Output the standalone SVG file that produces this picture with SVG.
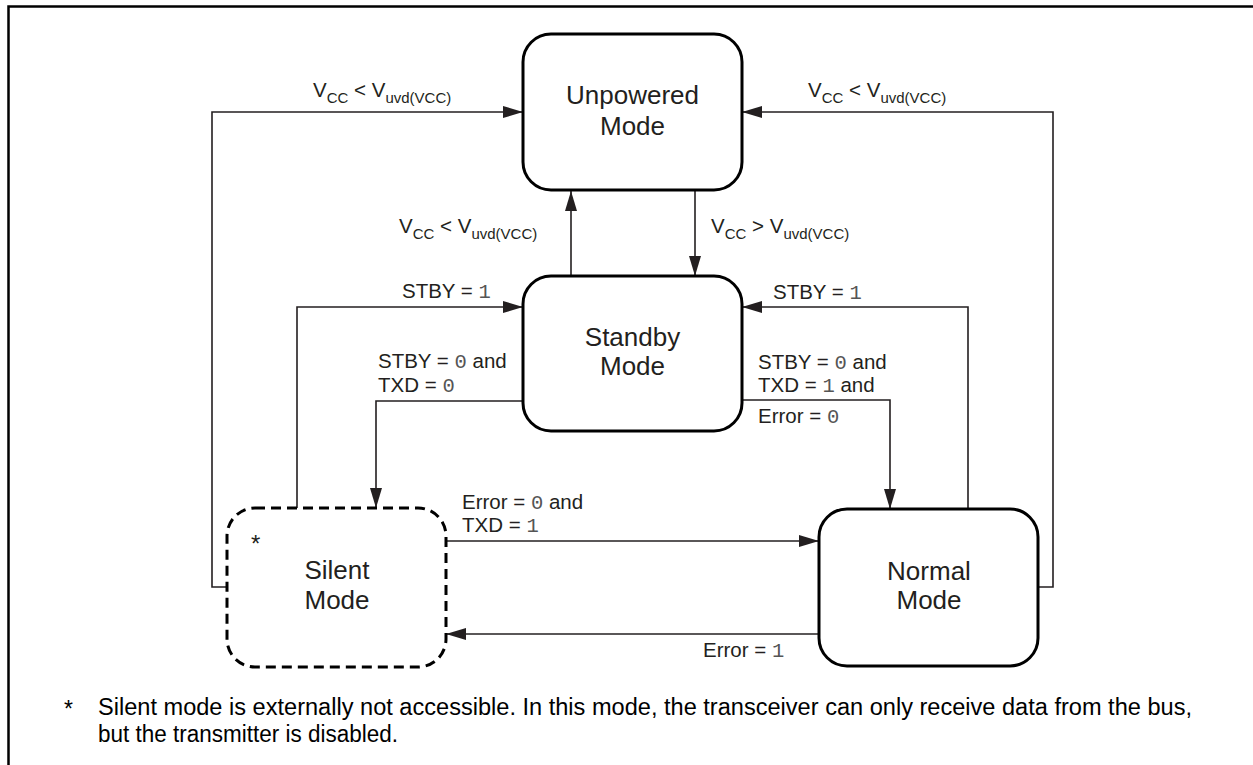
<svg xmlns="http://www.w3.org/2000/svg" width="1253" height="765" viewBox="0 0 1253 765">
<defs>
<marker id="arr" markerUnits="userSpaceOnUse" markerWidth="20" markerHeight="12" refX="20" refY="6" orient="auto">
<path d="M0,0 L20,6 L0,12 z" fill="#231f20"/>
</marker>
<style>
.node{fill:#fff;stroke:#000;stroke-width:3}
.dash{stroke-dasharray:10 6}
.nt{font-family:"Liberation Sans",Arial,sans-serif;font-size:26px;fill:#231f20;text-anchor:middle}
.lb{font-family:"Liberation Sans",Arial,sans-serif;font-size:20.5px;fill:#231f20}
.sub{font-size:15px}
.m{font-family:"Liberation Mono","Courier New",monospace;fill:#555}
.c{fill:none;stroke:#231f20;stroke-width:1.6}
.fn{font-family:"Liberation Sans",Arial,sans-serif;font-size:23px;fill:#000}
</style>
</defs>
<rect width="1253" height="765" fill="#fff"/>
<path d="M8.5,765 V6.5 H1253" fill="none" stroke="#000" stroke-width="2.5"/>

<g id="connectors">
<path class="c" d="M227,587 H212 V112 H523" marker-end="url(#arr)"/>
<path class="c" d="M1038,587 H1053 V112 H742" marker-end="url(#arr)"/>
<path class="c" d="M571,276 V191" marker-end="url(#arr)"/>
<path class="c" d="M695,191 V276" marker-end="url(#arr)"/>
<path class="c" d="M297,508 V307 H523" marker-end="url(#arr)"/>
<path class="c" d="M968,509 V307 H742" marker-end="url(#arr)"/>
<path class="c" d="M523,401 H376 V508" marker-end="url(#arr)"/>
<path class="c" d="M742,400 H890 V509" marker-end="url(#arr)"/>
<path class="c" d="M446,541 H819" marker-end="url(#arr)"/>
<path class="c" d="M819,634 H446" marker-end="url(#arr)"/>
</g>

<g id="labels">
<text class="lb" x="313" y="97">V<tspan class="sub" dy="6">CC</tspan><tspan dy="-6"> &lt; V</tspan><tspan class="sub" dy="6">uvd(VCC)</tspan></text>
<text class="lb" x="808" y="97">V<tspan class="sub" dy="6">CC</tspan><tspan dy="-6"> &lt; V</tspan><tspan class="sub" dy="6">uvd(VCC)</tspan></text>
<text class="lb" x="399" y="233">V<tspan class="sub" dy="6">CC</tspan><tspan dy="-6"> &lt; V</tspan><tspan class="sub" dy="6">uvd(VCC)</tspan></text>
<text class="lb" x="711" y="233">V<tspan class="sub" dy="6">CC</tspan><tspan dy="-6"> &gt; V</tspan><tspan class="sub" dy="6">uvd(VCC)</tspan></text>
<text class="lb" x="402" y="298">STBY = <tspan class="m">1</tspan></text>
<text class="lb" x="773" y="299">STBY = <tspan class="m">1</tspan></text>
<text class="lb" x="378" y="368">STBY = <tspan class="m">0</tspan> and</text>
<text class="lb" x="378" y="392">TXD = <tspan class="m">0</tspan></text>
<text class="lb" x="758" y="369">STBY = <tspan class="m">0</tspan> and</text>
<text class="lb" x="758" y="392">TXD = <tspan class="m">1</tspan> and</text>
<text class="lb" x="758" y="423">Error = <tspan class="m">0</tspan></text>
<text class="lb" x="462" y="509">Error = <tspan class="m">0</tspan> and</text>
<text class="lb" x="462" y="532">TXD = <tspan class="m">1</tspan></text>
<text class="lb" x="703" y="657">Error = <tspan class="m">1</tspan></text>
</g>

<g id="unpowered">
<rect class="node" x="523" y="34" width="219" height="156" rx="28"/>
<text class="nt" x="632.5" y="104">Unpowered</text>
<text class="nt" x="632.5" y="135">Mode</text>
</g>
<g id="standby">
<rect class="node" x="523" y="276" width="219" height="155" rx="28"/>
<text class="nt" x="632.5" y="346">Standby</text>
<text class="nt" x="632.5" y="375">Mode</text>
</g>
<g id="silent">
<rect class="node dash" x="227" y="508" width="219" height="159" rx="28"/>
<text class="lb" x="251" y="552" style="font-size:24px">*</text>
<text class="nt" x="337" y="579">Silent</text>
<text class="nt" x="337" y="609">Mode</text>
</g>
<g id="normal">
<rect class="node" x="819" y="509" width="219" height="157" rx="28"/>
<text class="nt" x="929" y="580">Normal</text>
<text class="nt" x="929" y="609">Mode</text>
</g>

<g id="footnote">
<text class="fn" x="64" y="717">*</text>
<text class="fn" x="98" y="715" textLength="1094" lengthAdjust="spacingAndGlyphs">Silent mode is externally not accessible. In this mode, the transceiver can only receive data from the bus,</text>
<text class="fn" x="98" y="742" textLength="300" lengthAdjust="spacingAndGlyphs">but the transmitter is disabled.</text>
</g>
</svg>
